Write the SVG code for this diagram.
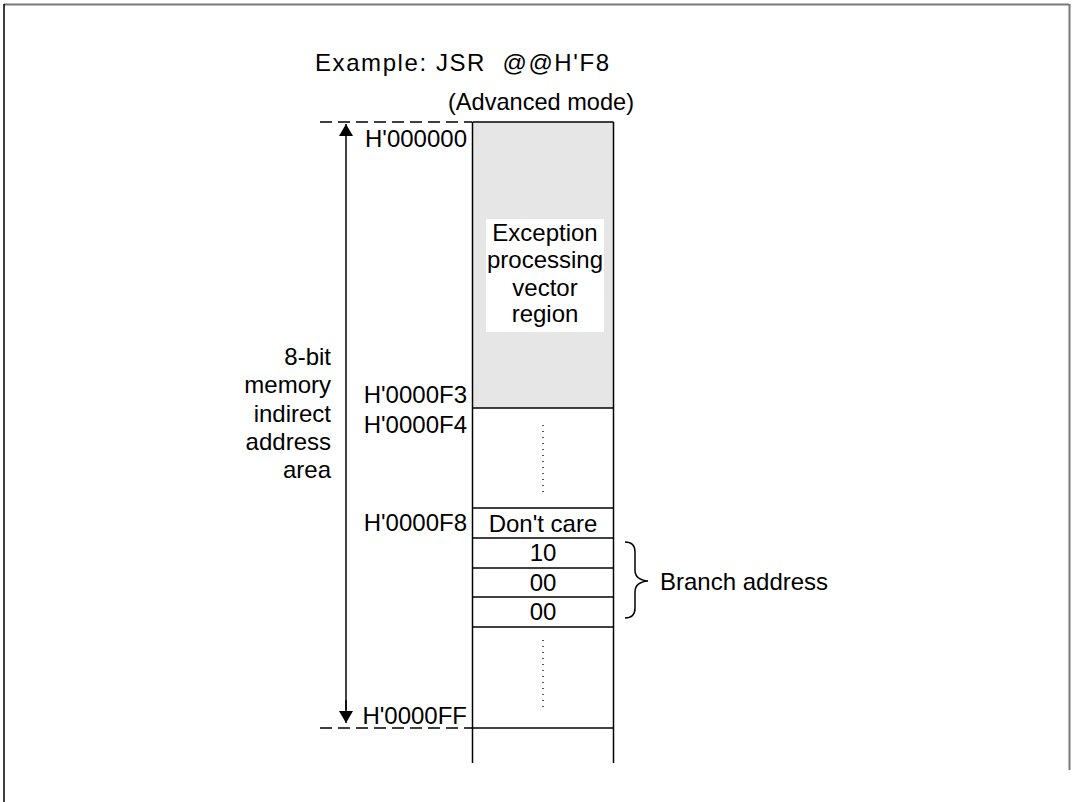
<svg xmlns="http://www.w3.org/2000/svg" width="1073" height="802" viewBox="0 0 1073 802">
<style>
text{font-family:"Liberation Sans",Arial,sans-serif;font-size:24px;fill:#000}
.r{text-anchor:end}
.c{text-anchor:middle}
.ln{stroke:#000;stroke-width:1.5;fill:none}
.dash{stroke:#000;stroke-width:1.3;stroke-dasharray:12 6;fill:none}
.dot{stroke:#000;stroke-width:1.3;stroke-dasharray:1 5;fill:none}
</style>
<defs>
<marker id="ah" viewBox="0 0 12 14" refX="12" refY="7" markerWidth="12" markerHeight="14" markerUnits="userSpaceOnUse" orient="auto">
<path d="M0,0 L12,7 L0,14 z" fill="#000"/>
</marker>
</defs>
<rect width="1073" height="802" fill="#fff"/>
<g id="frame">
<line x1="4" y1="4.5" x2="1069" y2="4.5" stroke="#777" stroke-width="2"/>
<line x1="4" y1="4" x2="4" y2="802" stroke="#000" stroke-width="1.5"/>
<line x1="1069.5" y1="4" x2="1069.5" y2="770" stroke="#777" stroke-width="2"/>
</g>
<g id="title">
<text x="315" y="71" xml:space="preserve" textLength="294" lengthAdjust="spacing">Example: JSR  @@H'F8</text>
<text x="448" y="110" textLength="186" lengthAdjust="spacingAndGlyphs">(Advanced mode)</text>
</g>
<g id="memory">
<rect x="472.5" y="122" width="141" height="286" fill="#e6e6e6"/>
<line class="ln" x1="472.5" y1="122" x2="613.5" y2="122"/>
<line class="ln" x1="472.5" y1="122" x2="472.5" y2="763"/>
<line class="ln" x1="613.5" y1="122" x2="613.5" y2="763"/>
<line class="ln" x1="472.5" y1="408" x2="613.5" y2="408"/>
<line class="ln" x1="472.5" y1="508" x2="613.5" y2="508"/>
<line class="ln" x1="472.5" y1="538" x2="613.5" y2="538"/>
<line class="ln" x1="472.5" y1="568" x2="613.5" y2="568"/>
<line class="ln" x1="472.5" y1="597" x2="613.5" y2="597"/>
<line class="ln" x1="472.5" y1="627" x2="613.5" y2="627"/>
<line class="ln" x1="472.5" y1="728" x2="613.5" y2="728"/>
<line class="dot" x1="543" y1="425" x2="543" y2="494"/>
<line class="dot" x1="543" y1="640" x2="543" y2="709"/>
</g>
<g id="vector-region">
<rect x="486" y="219" width="118" height="113" fill="#fff"/>
<text class="c" x="545" y="241">Exception</text>
<text class="c" x="545" y="268">processing</text>
<text class="c" x="545" y="296">vector</text>
<text class="c" x="545" y="322">region</text>
</g>
<g id="cells">
<text class="c" x="543" y="532">Don't care</text>
<text class="c" x="543" y="561">10</text>
<text class="c" x="543" y="591">00</text>
<text class="c" x="543" y="620">00</text>
</g>
<g id="addresses">
<text class="r" x="467" y="147">H'000000</text>
<text class="r" x="467" y="403">H'0000F3</text>
<text class="r" x="467" y="433">H'0000F4</text>
<text class="r" x="467" y="531">H'0000F8</text>
<text class="r" x="467" y="724">H'0000FF</text>
</g>
<g id="area-label">
<text class="r" x="331" y="365">8-bit</text>
<text class="r" x="331" y="393">memory</text>
<text class="r" x="331" y="422">indirect</text>
<text class="r" x="331" y="450">address</text>
<text class="r" x="331" y="478">area</text>
</g>
<g id="branch">
<path class="ln" d="M625,542 Q635,542 635,552 L635,570 Q635,580 648,581 Q635,582 635,592 L635,608 Q635,618 625,618" stroke-width="1.3"/>
<text x="660" y="590">Branch address</text>
</g>
<g id="connectors">
<line class="dash" x1="320" y1="122" x2="472" y2="122"/>
<line class="dash" x1="320" y1="728" x2="472" y2="728"/>
<line class="ln" x1="346" y1="135" x2="346" y2="124" marker-end="url(#ah)"/>
<line class="ln" x1="346" y1="135" x2="346" y2="710"/>
<line class="ln" x1="346" y1="700" x2="346" y2="723" marker-end="url(#ah)"/>
</g>
</svg>
